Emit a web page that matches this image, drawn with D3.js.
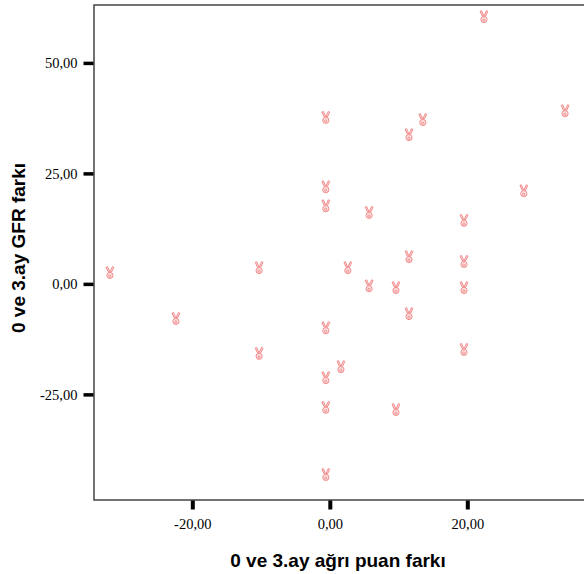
<!DOCTYPE html>
<html>
<head>
<meta charset="utf-8">
<script src="https://cdn.jsdelivr.net/npm/d3@7"></script>
<style>
  html, body { margin: 0; padding: 0; background: #fff; }
  svg { display: block; }
</style>
</head>
<body>
<svg id="chart" width="584" height="574"></svg>
<script>
// Change in pain score (x) vs change in GFR (y) between month 0 and month 3
const painDiff = [23.0, 34.8, 14.1, 12.1, 0, 0, 0, 6.3, 28.8, 20.1, 20.1, 12.1, 3.2, -9.7,
                  -31.4, 6.3, 10.2, 20.1, 12.1, -21.8, 0, -9.7, 20.1, 2.2, 0, 0, 10.2, 0];
const gfrDiff = [60.4, 39.1, 37.1, 33.7, 37.6, 21.9, 17.6, 16.1, 21.0, 14.3, 5.0, 6.1, 3.6, 3.6,
                 2.5, -0.5, -0.9, -0.9, -6.8, -7.9, -10.0, -15.8, -14.9, -18.8, -21.3, -28.0, -28.5, -43.2];
const xTicks = [-20, 0, 20];
const yTicks = [-25, 0, 25, 50];
const xTitle = "0 ve 3.ay ağrı puan farkı";
const yTitle = "0 ve 3.ay GFR farkı";

const svg = d3.select("#chart");
const plotL = 94, plotR = 600, plotT = 5, plotB = 500;

const x = d3.scaleLinear().domain([-34.3, 39.3]).range([plotL, plotR]);
const y = d3.scaleLinear().domain([-48.9, 63.1]).range([plotB, plotT]);

const fmt = v => d3.format(".2f")(v).replace(".", ",").replace("\u2212", "-");
const serif = "'Liberation Serif', 'Times New Roman', serif";
const sans = "'Liberation Sans', Arial, sans-serif";

// frame (left, top, bottom)
svg.append("path")
  .attr("d", `M${plotR},${plotT}H${plotL}V${plotB}H${plotR}`)
  .attr("fill", "none").attr("stroke", "#444").attr("stroke-width", 1.5);

// x axis
const xAxis = d3.axisBottom(x).tickValues(xTicks).tickSize(9).tickPadding(9).tickFormat(fmt);
const gx = svg.append("g").attr("transform", `translate(0,${plotB + 0.5})`).call(xAxis);
gx.select(".domain").remove();
gx.selectAll(".tick line").attr("stroke", "#000").attr("stroke-width", 4);
gx.selectAll(".tick text").attr("fill", "#000")
  .style("font-family", serif).style("font-size", "14.5px");

// y axis
const yAxis = d3.axisLeft(y).tickValues(yTicks).tickSize(10).tickPadding(6).tickFormat(fmt);
const gy = svg.append("g").attr("transform", `translate(${plotL - 0.5},0)`).call(yAxis);
gy.select(".domain").remove();
gy.selectAll(".tick line").attr("stroke", "#000").attr("stroke-width", 3.5);
gy.selectAll(".tick text").attr("fill", "#000")
  .style("font-family", serif).style("font-size", "14.5px");

// victory-hand marker: two raised fingers over a rounded fist
const handSymbol = {
  draw(ctx) {
    // left finger
    ctx.moveTo(-3.9, -5.6); ctx.lineTo(-2.5, -6.3); ctx.lineTo(-0.3, -1.4); ctx.lineTo(-1.7, -0.9); ctx.closePath();
    // right finger
    ctx.moveTo(3.9, -5.6); ctx.lineTo(2.5, -6.3); ctx.lineTo(0.3, -1.4); ctx.lineTo(1.7, -0.9); ctx.closePath();
    // fist
    ctx.moveTo(3.1, 2.6); ctx.arc(0, 2.6, 3.1, 0, 2 * Math.PI); ctx.closePath();
    // curled thumb
    ctx.moveTo(1.0, 3.2); ctx.arc(-0.1, 3.2, 1.1, 0, 2 * Math.PI); ctx.closePath();
  }
};

const pts = painDiff.map((v, i) => ({ px: v, gv: gfrDiff[i] }));
svg.append("g").selectAll("path").data(pts).join("path")
  .attr("transform", d => `translate(${x(d.px) - 4},${y(d.gv)})`)
  .attr("d", d3.symbol(handSymbol)())
  .attr("fill", "#fde3e3")
  .attr("fill-rule", "evenodd")
  .attr("stroke", "#f28a8a")
  .attr("stroke-width", 1);

// axis titles
svg.append("text")
  .attr("x", 338).attr("y", 567)
  .attr("text-anchor", "middle")
  .style("font-family", sans)
  .style("font-weight", "bold").style("font-size", "19px")
  .text(xTitle);

svg.append("text")
  .attr("transform", "translate(25,248) rotate(-90)")
  .attr("text-anchor", "middle")
  .style("font-family", sans)
  .style("font-weight", "bold").style("font-size", "19px")
  .text(yTitle);
</script>
</body>
</html>
